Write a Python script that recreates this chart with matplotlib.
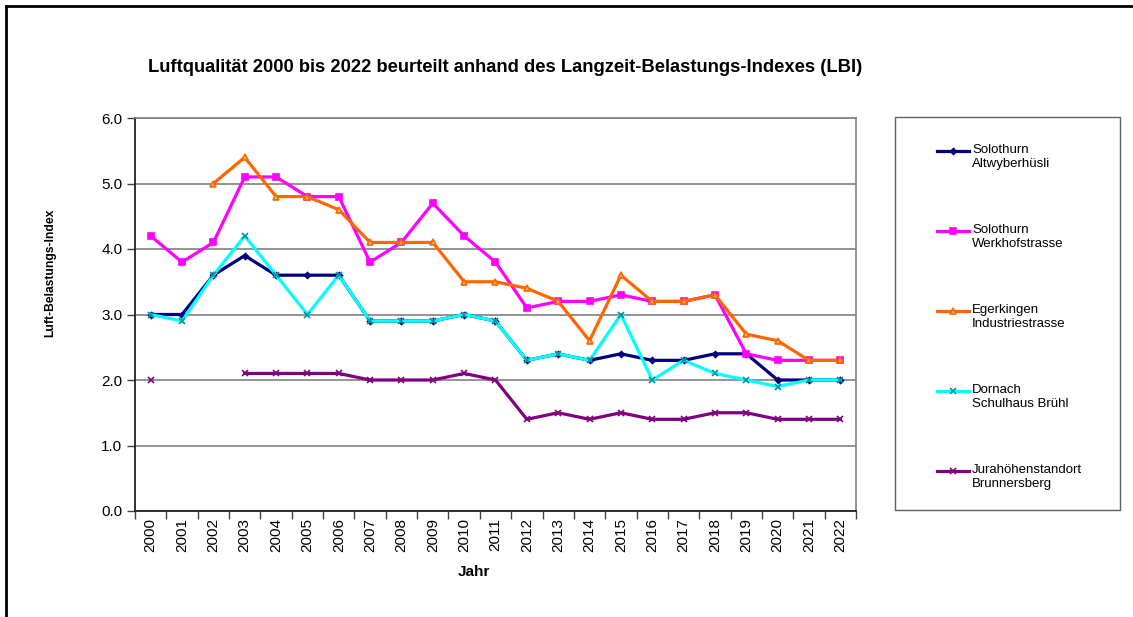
import numpy as np
import matplotlib
matplotlib.use("Agg")
import matplotlib.pyplot as plt
from matplotlib.lines import Line2D
from matplotlib.patches import Rectangle

plt.rcParams['font.family'] = ['Liberation Sans', 'DejaVu Sans']

years = [str(y) for y in range(2000, 2023)]
nan = np.nan

solothurn_altwyberhuesli = [3.0, 3.0, 3.6, 3.9, 3.6, 3.6, 3.6, 2.9, 2.9, 2.9, 3.0, 2.9,
                            2.3, 2.4, 2.3, 2.4, 2.3, 2.3, 2.4, 2.4, 2.0, 2.0, 2.0]
solothurn_werkhof = [4.2, 3.8, 4.1, 5.1, 5.1, 4.8, 4.8, 3.8, 4.1, 4.7, 4.2, 3.8,
                     3.1, 3.2, 3.2, 3.3, 3.2, 3.2, 3.3, 2.4, 2.3, 2.3, 2.3]
egerkingen = [nan, nan, 5.0, 5.4, 4.8, 4.8, 4.6, 4.1, 4.1, 4.1, 3.5, 3.5,
              3.4, 3.2, 2.6, 3.6, 3.2, 3.2, 3.3, 2.7, 2.6, 2.3, 2.3]
dornach = [3.0, 2.9, 3.6, 4.2, 3.6, 3.0, 3.6, 2.9, 2.9, 2.9, 3.0, 2.9,
           2.3, 2.4, 2.3, 3.0, 2.0, 2.3, 2.1, 2.0, 1.9, 2.0, 2.0]
brunnersberg = [2.0, nan, nan, 2.1, 2.1, 2.1, 2.1, 2.0, 2.0, 2.0, 2.1, 2.0,
                1.4, 1.5, 1.4, 1.5, 1.4, 1.4, 1.5, 1.5, 1.4, 1.4, 1.4]

series_labels = ["Solothurn\nAltwyberhüsli", "Solothurn\nWerkhofstrasse",
                 "Egerkingen\nIndustriestrasse", "Dornach\nSchulhaus Brühl",
                 "Jurahöhenstandort\nBrunnersberg"]
y_ticks = [0.0, 1.0, 2.0, 3.0, 4.0, 5.0, 6.0]

W, H = 1133, 617
fig = plt.figure(figsize=(W / 100, H / 100), dpi=100)
ax = fig.add_axes([135 / W, 1 - 511 / H, (856 - 135) / W, (511 - 118) / H])

x = np.arange(len(years))
styles = [
    dict(color='#000080', marker='D', markersize=3, mfc='#000080', mec='#000080'),
    dict(color='#FF00FF', marker='s', markersize=4.5, mfc='#FF00FF', mec='#FF00FF'),
    dict(color='#FF6600', marker='^', markersize=4.5, mfc='#FFB060', mec='#FF6600'),
    dict(color='#00FFFF', marker='x', markersize=4, mfc='#00FFFF', mec='#0090A0'),
    dict(color='#800080', marker='x', markersize=4, mfc='#800080', mec='#800080'),
]
all_series = [solothurn_altwyberhuesli, solothurn_werkhof, egerkingen, dornach, brunnersberg]
handles = []
for vals, st, lab in zip(all_series, styles, series_labels):
    ln, = ax.plot(x, vals, lw=2.3, mew=1.2, label=lab, zorder=3, **st)
    handles.append(ln)

ax.set_xlim(-0.5, len(years) - 0.5)
ax.set_ylim(0, 6)
ax.set_yticks(y_ticks)
ax.set_yticklabels([f"{v:.1f}" for v in y_ticks], fontsize=11)
ax.yaxis.grid(True, color='#808080', lw=1.2, zorder=0)
ax.set_axisbelow(True)

ax.set_xticks(np.arange(-0.5, len(years), 1.0))
ax.set_xticklabels([])
ax.set_xticks(x, minor=True)
ax.set_xticklabels(years, minor=True, rotation=90, fontsize=11)
ax.tick_params(axis='x', which='major', direction='out', length=6, width=1, color='#404040')
ax.tick_params(axis='x', which='minor', length=0, pad=5)
ax.tick_params(axis='y', direction='out', length=6, width=1, color='#404040', pad=3)

for s in ['left', 'bottom']:
    ax.spines[s].set_color('#202020')
    ax.spines[s].set_linewidth(1.3)
for s in ['top', 'right']:
    ax.spines[s].set_color('#808080')
    ax.spines[s].set_linewidth(1.2)

ax.set_xlabel("Jahr", fontsize=11, fontweight='bold')
ax.set_ylabel("Luft-Belastungs-Index", fontsize=8.7, fontweight='bold')
ax.yaxis.set_label_coords(56 / W, 1 - 273 / H, transform=fig.transFigure)
ax.xaxis.set_label_coords(474 / W, 1 - 572 / H, transform=fig.transFigure)
ax.xaxis.label.set_va('center')

fig.text(505 / W, 1 - 68 / H,
         "Luftqualität 2000 bis 2022 beurteilt anhand des Langzeit-Belastungs-Indexes (LBI)",
         ha='center', va='center', fontsize=13.2, fontweight='bold')

# legend box with entries (handle aligned with first text line)
fig.patches.append(Rectangle((895 / W, 1 - 510 / H), (1120 - 895) / W, (510 - 117) / H,
                             transform=fig.transFigure, fill=False, ec='#606060', lw=1))
for i, (h, lab) in enumerate(zip(handles, series_labels)):
    yc = 151 + 80 * i
    fig.add_artist(Line2D([937 / W, 953 / W, 969 / W], [1 - yc / H] * 3,
                          transform=fig.transFigure, color=h.get_color(), lw=2.3,
                          marker=h.get_marker(), markersize=h.get_markersize(),
                          mfc=h.get_markerfacecolor(), mec=h.get_markeredgecolor(),
                          mew=1.2, markevery=[1]))
    fig.text(972 / W, 1 - (yc - 7) / H, lab, ha='left', va='top', fontsize=9.5,
             linespacing=1.25)

# outer border (top and left)
fig.add_artist(Line2D([6 / W, 1], [1 - 6 / H, 1 - 6 / H], transform=fig.transFigure,
                      color='black', lw=2))
fig.add_artist(Line2D([6 / W, 6 / W], [0, 1 - 6 / H], transform=fig.transFigure,
                      color='black', lw=2))

fig.savefig("out.png", dpi=100, facecolor='white')
